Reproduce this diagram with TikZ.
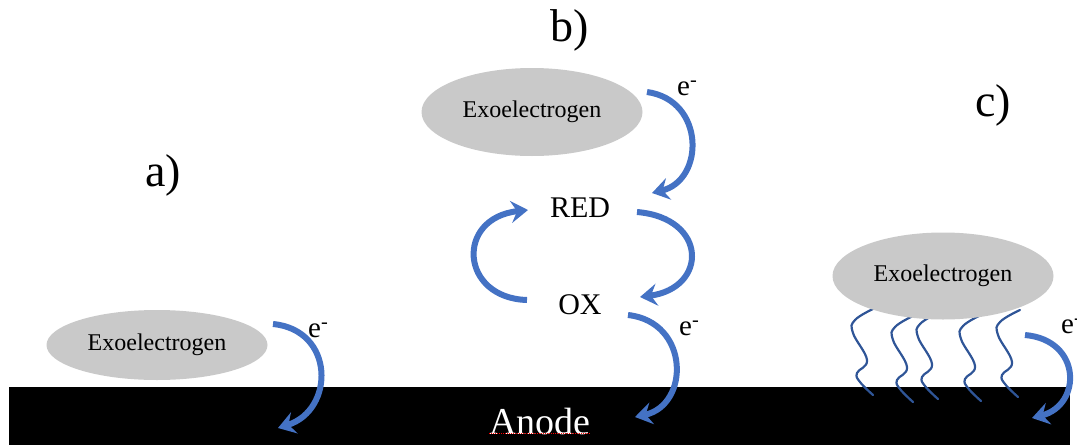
\documentclass[tikz,border=0pt]{standalone}
\usepackage{fontspec}
\setmainfont{Liberation Serif}
\usetikzlibrary{arrows.meta,shapes.geometric}
\definecolor{arrblue}{HTML}{4472C4}
\definecolor{wireblue}{HTML}{2F5597}
\definecolor{cellgray}{HTML}{C9C9C9}
\begin{document}
\begin{tikzpicture}[x=1pt,y=-1pt,
  cell/.style={ellipse,fill=cellgray,draw=none,minimum width=221pt,minimum height=#1,inner sep=0pt,font=\fontsize{24}{28}\selectfont},
  cell/.default=70pt,
  flow/.style={draw=arrblue,line width=6pt,-{Stealth[length=17pt,width=22pt,inset=6pt]}},
  wire/.style={draw=wireblue,line width=2.2pt,line cap=round},
  species/.style={font=\fontsize{30}{34}\selectfont,inner sep=0pt},
  elec/.style={font=\fontsize{29}{33}\selectfont,inner sep=0pt},
  panel/.style={font=\fontsize{46}{50}\selectfont,inner sep=0pt}]
\useasboundingbox (0,0) rectangle (1077,445);
\clip (0,0) rectangle (1077,445);
% anode
\node[fill=black,minimum width=1061pt,minimum height=58pt,inner sep=0pt,anchor=north west] (anode) at (9,387) {};
\node[font=\fontsize{38}{42}\selectfont,text=white,inner sep=0pt] (anodetxt) at (540,421) {Anode};
\draw[red,densely dotted,line width=1pt] (anodetxt.south west) ++(0,-1) coordinate (ul1) -- (ul1 -| anodetxt.south east);
% panel labels
\node[panel] (la) at (163,175) {a)};
\node[panel] (lb) at (570,30) {b)};
\node[panel] (lc) at (993,105) {c)};
% a)
\node[cell] (ea) at (157,345) {Exoelectrogen};
\coordinate (a1) at (273,324);
\coordinate (a2) at (278,428);
\draw[flow] (a1) .. controls (335,330) and (335,410) .. (a2);
\node[elec,anchor=west] (ela) at (308,330) {e\textsuperscript{-}};
% b)
\node[cell=88pt] (eb) at (532,112) {Exoelectrogen};
\node[species] (red) at (580,208) {RED};
\node[species] (ox) at (580,305) {OX};
\coordinate (b1) at (647,92);
\coordinate (b2) at (652,193);
\draw[flow] (b1) .. controls (705,100) and (705,180) .. (b2);
\node[elec,anchor=west] (elb) at (677,88) {e\textsuperscript{-}};
\coordinate (r1) at (637,212);
\coordinate (r2) at (640,297);
\draw[flow] (r1) .. controls (708,218) and (708,288) .. (r2);
\coordinate (o1) at (527,300);
\coordinate (o2) at (528,210);
\draw[flow] (o1) .. controls (460,298) and (455,218) .. (o2);
\coordinate (x1) at (628,315);
\coordinate (x2) at (635,417);
\draw[flow] (x1) .. controls (690,322) and (690,405) .. (x2);
\node[elec,anchor=west] (elx) at (679,328) {e\textsuperscript{-}};
% c)
\foreach \x/\y in {875/308, 915/315, 940/312, 983/314, 1020/310}{
  \draw[wire] plot[smooth,tension=0.7] coordinates {(\x,\y) (\x-20,\y+12) (\x-22,\y+25) (\x-8,\y+52) (\x-18,\y+65) (\x-15,\y+74) (\x-2,\y+87)};
}
\node[cell=87pt] (ec) at (943,276) {Exoelectrogen};
\coordinate (c1) at (1025,335);
\coordinate (c2) at (1032,418);
\draw[flow] (c1) .. controls (1082,340) and (1082,405) .. (c2);
\node[elec,anchor=west] (elc) at (1061,326) {e\textsuperscript{-}};
\end{tikzpicture}
\end{document}
